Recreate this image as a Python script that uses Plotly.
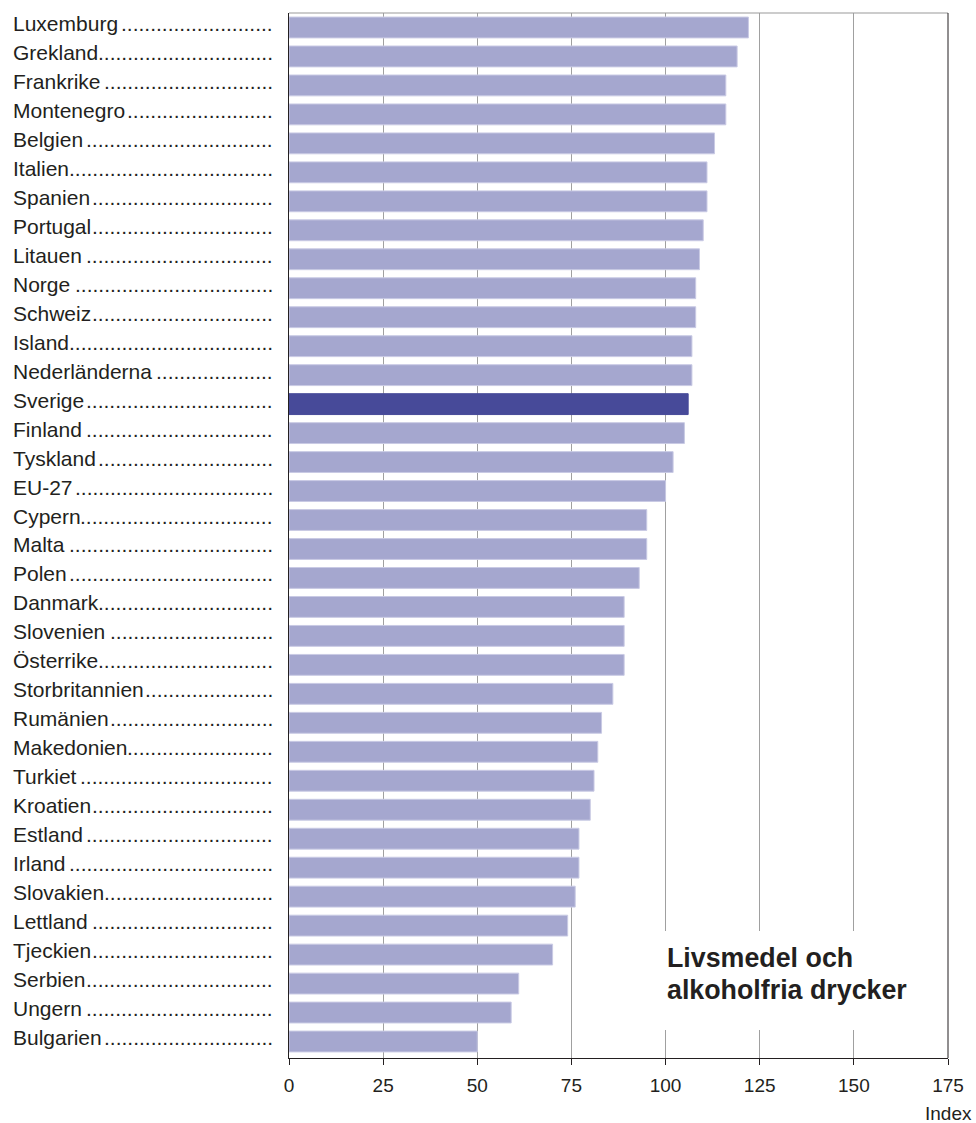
import plotly.graph_objects as go

countries = ["Luxemburg", "Grekland", "Frankrike", "Montenegro", "Belgien", "Italien",
             "Spanien", "Portugal", "Litauen", "Norge", "Schweiz", "Island",
             "Nederländerna", "Sverige", "Finland", "Tyskland", "EU-27", "Cypern",
             "Malta", "Polen", "Danmark", "Slovenien", "Österrike", "Storbritannien",
             "Rumänien", "Makedonien", "Turkiet", "Kroatien", "Estland", "Irland",
             "Slovakien", "Lettland", "Tjeckien", "Serbien", "Ungern", "Bulgarien"]
values = [122, 119, 116, 116, 113, 111, 111, 110, 109, 108, 108, 107,
          107, 106, 105, 102, 100, 95, 95, 93, 89, 89, 89, 86,
          83, 82, 81, 80, 77, 77, 76, 74, 70, 61, 59, 50]
highlight = "Sverige"
x_ticks = [0, 25, 50, 75, 100, 125, 150, 175]
axis_title = "Index"
panel_title_lines = ["Livsmedel och", "alkoholfria drycker"]

base_col = "#A5A7CF"
hi_col = "#474A99"
colors = [hi_col if c == highlight else base_col for c in countries]
line_cols = [hi_col if c == highlight else "#C9CAE4" for c in countries]

W, H = 976, 1123
ml, mr, mt, mb = 289, 25, 13, 65
pw = W - ml - mr
ph = H - mt - mb

# Arial / Liberation Sans advance widths (per 1000 em) for text-layout of dot leaders
AW = {" ": 278, ".": 278, "-": 333, "ä": 556, "Ö": 778}
for ch in "0123456789":
    AW[ch] = 556
for ch, w in zip("ABCDEFGHIJKLMNOPQRSTUVWXYZ",
                 [667, 667, 722, 722, 667, 611, 778, 722, 278, 500, 667, 556, 833,
                  722, 778, 667, 778, 722, 667, 611, 722, 667, 944, 667, 667, 611]):
    AW[ch] = w
for ch, w in zip("abcdefghijklmnopqrstuvwxyz",
                 [556, 556, 500, 556, 556, 278, 556, 556, 222, 222, 500, 222, 833,
                  556, 556, 556, 556, 333, 500, 278, 556, 500, 722, 500, 500, 500]):
    AW[ch] = w

def text_w(s, size):
    return sum(AW.get(ch, 556) for ch in s) * size / 1000.0

fig = go.Figure(go.Bar(
    x=values, y=countries, orientation="h",
    marker=dict(color=colors, line=dict(color=line_cols, width=1)),
    width=0.72,
))

font_main = "Liberation Sans, Arial, sans-serif"
lab_size = 21
lab_left, lab_right = 11, 274
dot_w = 0.278 * lab_size

def px2x(px):
    return (px - ml) / pw

def py2y(py):
    return (H - mb - py) / ph

ann = []
for c in countries:
    avail = (lab_right - lab_left) - text_w(c, lab_size) - 2
    n = int(avail // dot_w)
    ann.append(dict(x=px2x(lab_left), y=c, xref="paper", yref="y", text=c,
                    showarrow=False, xanchor="left", yanchor="middle", borderpad=0, yshift=4,
                    font=dict(family=font_main, size=lab_size, color="#231F20")))
    ann.append(dict(x=px2x(lab_right), y=c, xref="paper", yref="y", text="." * n,
                    showarrow=False, xanchor="right", yanchor="middle", borderpad=0, yshift=4,
                    font=dict(family=font_main, size=lab_size, color="#231F20")))

for line, py in zip(panel_title_lines, [958, 990]):
    ann.append(dict(x=px2x(668), y=py2y(py), xref="paper", yref="paper",
                    yanchor="middle", xanchor="left", align="left", borderpad=0,
                    text="<b>" + line + "</b>", showarrow=False,
                    font=dict(family=font_main, size=26.8, color="#231F20")))
ann.append(dict(x=px2x(976), y=py2y(1113), xref="paper", yref="paper",
                xanchor="right", yanchor="middle", text=axis_title, showarrow=False,
                borderpad=0,
                font=dict(family=font_main, size=19, color="#231F20")))

shapes = [
    # white box behind panel title (hides grid lines)
    dict(type="rect", xref="paper", yref="paper", x0=px2x(600), x1=px2x(940),
         y0=py2y(1030), y1=py2y(931), fillcolor="white", line=dict(width=0), layer="above"),
    # top border
    dict(type="line", xref="paper", yref="paper", x0=0, x1=1, y0=1, y1=1,
         line=dict(color="#999999", width=1)),
    # right border
    dict(type="line", xref="paper", yref="paper", x0=1, x1=1, y0=0, y1=1,
         line=dict(color="#231F20", width=1)),
]

fig.update_layout(
    width=W, height=H,
    margin=dict(l=ml, r=mr, t=mt, b=mb),
    plot_bgcolor="white", paper_bgcolor="white",
    showlegend=False,
    annotations=ann,
    shapes=shapes,
    xaxis=dict(range=[0, 175], tickvals=x_ticks, showgrid=True, gridcolor="#A0A0A0",
               gridwidth=1, zeroline=False, showline=True, linecolor="#231F20", linewidth=1,
               ticks="outside", ticklen=6, tickcolor="#231F20", ticklabelstandoff=4,
               tickfont=dict(family=font_main, size=19, color="#231F20"),
               fixedrange=True),
    yaxis=dict(autorange="reversed", showticklabels=False, showgrid=False, zeroline=False,
               showline=True, linecolor="#231F20", linewidth=1, ticks="", fixedrange=True),
)

fig.write_html("out.html", config={"displayModeBar": False},
               post_script="document.body.style.margin='0';document.body.style.overflow='hidden';")
